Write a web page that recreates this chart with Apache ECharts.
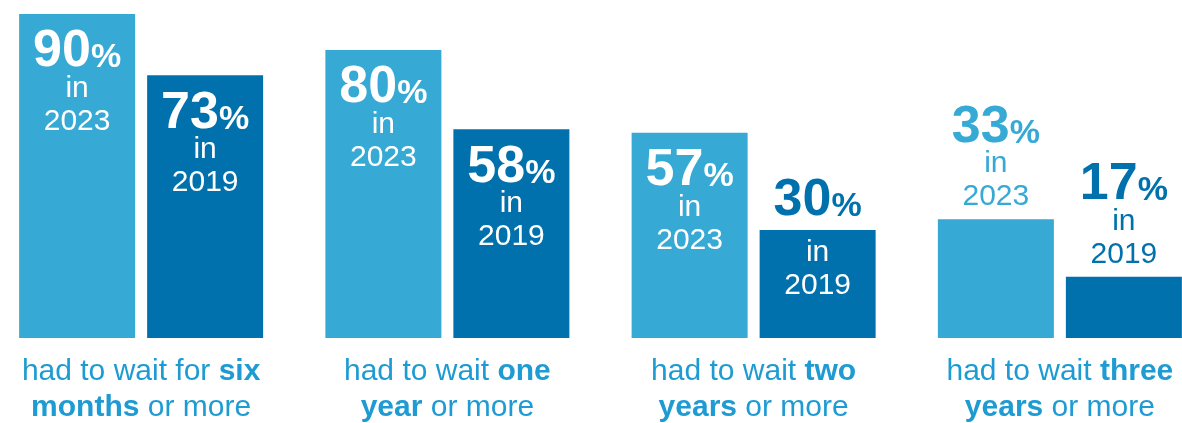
<!DOCTYPE html>
<html>
<head>
<meta charset="utf-8">
<script src="https://cdn.jsdelivr.net/npm/echarts@6/dist/echarts.min.js"></script>
<style>
  html, body { margin: 0; padding: 0; background: #ffffff; }
  #chart { width: 1182px; height: 423px; }
</style>
</head>
<body>
<div id="chart"></div>
<script>
// ---- data ----
const categories = [
  'had to wait for {b|six}\n{b|months} or more',
  'had to wait {b|one}\n{b|year} or more',
  'had to wait {b|two}\n{b|years} or more',
  'had to wait {b|three}\n{b|years} or more'
];
const seriesNames = ['2023', '2019'];
const values2023 = [90, 80, 57, 33];
const values2019 = [73, 58, 30, 17];

// ---- style config ----
const FONT = "'Liberation Sans', Arial, Helvetica, sans-serif";
const LIGHT = '#36A9D4';
const DARK = '#0071AD';
const TEXT = '#1D9BD2';
const placement2023 = ['inside', 'inside', 'inside', 'above'];
const placement2019 = ['inside', 'inside', 'split', 'above'];

function richStyles(numColor, txtColor) {
  return {
    v: { fontFamily: FONT, fontSize: 52, fontWeight: 'bold', color: numColor, lineHeight: 46, align: 'center' },
    p: { fontFamily: FONT, fontSize: 34, fontWeight: 'bold', color: numColor, lineHeight: 46, verticalAlign: 'bottom', align: 'center' },
    s: { fontFamily: FONT, fontSize: 1, lineHeight: 15, align: 'center' },
    ti: { fontFamily: FONT, fontSize: 30, color: txtColor, lineHeight: 28, align: 'center' },
    ty: { fontFamily: FONT, fontSize: 30, color: txtColor, lineHeight: 38, align: 'center' }
  };
}

function makeData(values, placements, year, color) {
  return values.map((v, i) => {
    const mode = placements[i];
    let label;
    if (mode === 'inside') {
      label = {
        show: true, position: 'insideTop', distance: 15,
        formatter: '{v|' + v + '}{p|%}\n{ti|in}\n{ty|' + year + '}',
        rich: richStyles('#ffffff', '#ffffff')
      };
    } else if (mode === 'split') {
      label = {
        show: true, position: 'insideTop', distance: 15, offset: [0, -67],
        formatter: '{v|' + v + '}{p|%}\n{s| }\n{ti|in}\n{ty|' + year + '}',
        rich: richStyles(color, '#ffffff')
      };
    } else {
      label = {
        show: true, position: 'top', distance: 3,
        formatter: '{v|' + v + '}{p|%}\n{ti|in}\n{ty|' + year + '}',
        rich: richStyles(color, color)
      };
    }
    return { value: v, label: label };
  });
}

const chart = echarts.init(document.getElementById('chart'), null, { renderer: 'canvas' });
chart.setOption({
  animation: false,
  backgroundColor: '#ffffff',
  grid: { left: -12, width: 1225, top: 14, bottom: 85, containLabel: false, outerBoundsMode: 'none' },
  xAxis: {
    type: 'category',
    data: categories,
    axisLine: { show: false },
    axisTick: { show: false },
    splitLine: { show: false },
    axisLabel: {
      interval: 0,
      margin: 16,
      fontFamily: FONT,
      fontSize: 30,
      color: TEXT,
      lineHeight: 36,
      align: 'center',
      hideOverlap: false,
      rich: {
        b: { fontFamily: FONT, fontSize: 30, fontWeight: 'bold', color: TEXT, lineHeight: 36 }
      }
    }
  },
  yAxis: {
    type: 'value',
    min: 0,
    max: function (ext) { return ext.max; },
    show: false,
    splitLine: { show: false }
  },
  series: [
    {
      name: seriesNames[0], type: 'bar', barWidth: 116, barGap: '10.35%',
      itemStyle: { color: LIGHT },
      data: makeData(values2023, placement2023, seriesNames[0], LIGHT)
    },
    {
      name: seriesNames[1], type: 'bar', barWidth: 116, barGap: '10.35%',
      itemStyle: { color: DARK },
      data: makeData(values2019, placement2019, seriesNames[1], DARK)
    }
  ]
});
</script>
</body>
</html>
